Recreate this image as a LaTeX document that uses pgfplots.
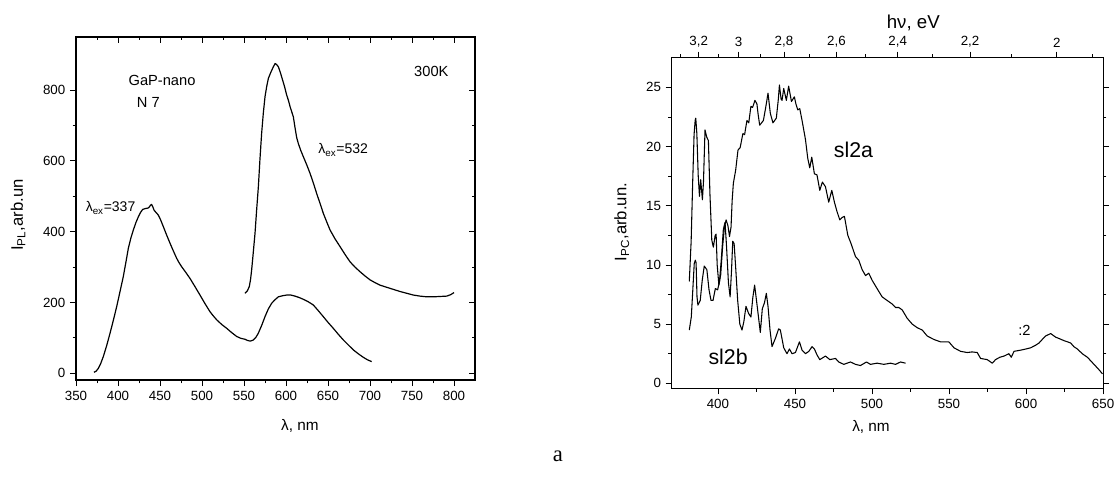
\documentclass[border=0pt]{standalone}
\usepackage{pgfplots}
\pgfplotsset{compat=1.18}
\usepackage{fontspec}
\setmainfont{Liberation Sans}
\newfontfamily\serifa{Liberation Serif}
\begin{document}
\begin{tikzpicture}
\useasboundingbox (0pt,0pt) rectangle (837.75pt,357pt);
\pgfplotsset{
  every axis/.append style={
    /pgf/number format/assume math mode=true,
    tick label style={font=\fontsize{10}{11}\selectfont},
    label style={font=\fontsize{11.5}{13}\selectfont},
    axis line style={line width=0.8pt},
    every tick/.style={black, line width=0.6pt},
    major tick length=4.5pt,
    minor tick length=2.5pt,
    scale only axis,
  },
}
% ---------------- left panel ----------------
\begin{axis}[
  at={(57pt,72pt)}, anchor=south west,
  width=299.25pt, height=257.25pt,
  xmin=350, xmax=825, ymin=-19, ymax=950,
  xtick={350,400,...,800}, ytick={0,200,...,800},
  minor x tick num=1, minor y tick num=1,
  xtick pos=lower, ytick pos=left, tick align=outside,
  xlabel={λ, nm},
  ylabel={I\textsubscript{PL},arb.un},
  xlabel style={at={(axis description cs:0.561,-0.134)}, anchor=center},
  ylabel style={font=\fontsize{12.5}{14}\selectfont, at={(axis description cs:-0.145,0.481)}, anchor=center, rotate=0},
  clip=false,
]
\addplot[black, line width=0.9pt, line join=round] coordinates {
(371.4,3) (374,6) (376.6,14) (379.5,28) (382.5,47) (386.5,78) (390.5,113) (394.5,150) (398.4,188)
(402.5,232) (406.3,273) (409.5,315) (412.3,353) (415.3,382) (418.3,405) (421.2,425) (424.2,442)
(427,455) (429.4,463) (432,465) (434.1,466) (436,467) (437.3,470) (438.8,475) (440,477)
(441.5,470) (442.9,461) (445,455) (448,447) (451,432) (454,414) (458,390) (462,367) (466,345)
(469.8,325) (472.8,312) (475.8,301) (480.7,285) (485.7,268) (491.6,245) (497.6,221) (503.5,197)
(509.5,174) (513.5,162) (517.5,151) (523.4,138) (529.4,127) (535.3,115) (541.3,104) (546,99)
(551.2,96) (554,93) (557.1,91) (559,92) (561,94) (564,101) (567,113) (571,135) (575,160) (579,182)
(583,198) (587,208) (590.9,216) (595.8,219) (600.8,221) (605.7,221) (610.7,218) (615.7,214)
(620.6,209) (626.5,202) (632.5,193) (638.4,177) (644.4,160) (650.3,143) (656.3,127) (662.3,110)
(668.3,94) (674.2,80) (680.2,66) (686.1,55) (692.1,45) (697,38) (702,33)
};
\addplot[black, line width=0.9pt, line join=round] coordinates {
(551.2,226) (554,233) (556.3,245) (557.8,265) (559.1,292) (561,340) (563.1,395) (565,460)
(567.1,527) (569,605) (571,678) (573,735) (575,781) (577,810) (579,833) (581,845) (583,856)
(585,866) (587,875) (588.5,873) (590.9,866) (593.5,848) (596,828) (598.5,808) (600.8,786)
(603,770) (605,752) (608.7,725) (611,690) (612.8,665) (614.7,649) (617.5,630) (620.6,612)
(624.5,590) (628.6,565) (632.5,538) (636.5,508) (640.5,480) (644.4,452) (648.4,428) (652.4,405)
(658.3,380) (664.3,358) (670.2,336) (676.2,315) (682.1,300) (688.1,287) (694,275) (700,264)
(706,256) (711.9,249) (719.8,243) (727.8,237) (735.8,231) (743.7,226) (751.6,221) (759.5,218)
(767.5,216) (775.4,216) (783.4,217) (791.3,218) (796,222) (800,228)
};
\node[anchor=west, font=\fontsize{11}{13}\selectfont] at (axis cs:407,828) {GaP-nano};
\node[anchor=west, font=\fontsize{11}{13}\selectfont] at (axis cs:417,766) {N 7};
\node[anchor=west, font=\fontsize{11}{13}\selectfont] at (axis cs:747,854) {300K};
\node[anchor=west, font=\fontsize{10.5}{12}\selectfont] at (axis cs:633,631) {λ\textsubscript{ex}=532};
\node[anchor=west, font=\fontsize{10.5}{12}\selectfont] at (axis cs:356,467) {λ\textsubscript{ex}=337};
\end{axis}
\begin{axis}[
  at={(57pt,72pt)}, anchor=south west,
  width=299.25pt, height=257.25pt,
  xmin=350, xmax=825, ymin=-19, ymax=950,
  xtick={350,400,...,800}, ytick={0,200,...,800},
  minor x tick num=1, minor y tick num=1,
  xtick pos=upper, ytick pos=right, tick align=inside,
  xticklabels={}, yticklabels={},
]
\end{axis}
% ---------------- right panel ----------------
\begin{axis}[
  at={(503.8pt,65.8pt)}, anchor=south west,
  width=323.5pt, height=247.9pt,
  xmin=370, xmax=650, ymin=-0.42, ymax=27.5,
  xtick={400,450,...,650}, ytick={0,5,...,25},
  minor x tick num=1, minor y tick num=1,
  xtick pos=lower, ytick pos=both, yticklabel pos=left, tick align=outside,
  xlabel={λ, nm},
  ylabel={I\textsubscript{PC},arb.un.},
  xlabel style={at={(axis description cs:0.462,-0.117)}, anchor=center},
  ylabel style={font=\fontsize{12.5}{14}\selectfont, at={(axis description cs:-0.116,0.503)}, anchor=center, rotate=0},
  clip=false,
]
% sl2a
\addplot[black, line width=0.8pt, line join=round] coordinates {
(381.4,8.6) (382.6,12) (383.6,17) (384.5,21) (385.2,22.2) (385.6,22.4) (386.3,21.1) (387.2,17.5)
(388,15.8) (388.8,17.2) (389.9,15.5) (390.6,17) (391.6,21.4) (392.7,20.8) (393.8,20.5) (394.8,16)
(396,12.1) (397,11.5) (398.2,12.5) (398.8,12.6) (399.5,10) (400.6,8.3) (401.8,9.2) (403,11.5)
(404.2,13.2) (405.3,13.8) (406.5,13.3) (407.5,12.4) (408.5,13.2) (409.2,15.4) (410,16.9) (411.5,18)
(413,19.7) (414.4,19.9) (416.2,21.1) (417.3,21.0) (418.8,22.2) (420,22.0) (421.4,23.4) (422.5,23.3)
(424,23.9) (425.3,23.6) (426,22.8) (427.1,21.8) (428.3,22.0) (429.5,22.2) (431,23.3) (432.5,24.5)
(434,22.8) (435.7,22.0) (437.9,22.4) (439.2,24) (439.9,25.2) (441.0,24.0) (441.6,23.9) (442.7,24.9)
(444.4,23.9) (445.9,25.1) (447.7,23.8) (449.6,24.2) (450.6,23.6) (451.8,23.1) (453.1,23.2)
(454.6,22.2) (456.8,20.6) (458.3,19.0) (459.6,18.2) (460.9,19.1) (462.6,17.7) (464.3,17.6)
(466.1,16.3) (467.8,17.0) (469.8,16.6) (471.9,15.3) (473.9,16.3) (475.6,15.3) (477.3,14.5)
(479.1,13.8) (480.5,14.0) (482.1,14.1) (484.3,12.5) (486.4,11.8) (489.3,10.7) (491.4,10.4)
(493.6,9.6) (495.8,9.1) (497.9,9.3) (500.1,8.7) (503.3,8.0) (506.6,7.3) (509.8,7.0) (513.1,6.7)
(515.3,6.4) (517.4,6.4) (519.6,6.2) (522.8,5.5) (526.1,5.0) (529.3,4.7) (532.6,4.5) (535.8,4.0)
(540.2,3.7) (544.5,3.5) (549.9,3.5) (553.2,3.0) (557.5,2.7) (561.8,2.6) (565,2.65) (568.3,2.6)
(570.5,2.1) (574.8,2.0) (578.1,1.7) (580.2,2.0) (583,2.2) (585.7,2.3) (588.9,2.5) (590.4,2.2)
(592.2,2.7) (596.5,2.8) (600,2.9) (603,3.0) (606,3.2) (608.4,3.4) (610.5,3.7) (612.7,4.0)
(616,4.2) (619.2,3.9) (622,3.75) (624.7,3.6) (627,3.5) (629,3.4) (631,3.1) (633.3,2.9)
(636.5,2.5) (639.8,2.2) (642,1.9) (644.1,1.6) (647,1.2) (649.6,0.8)
};
% sl2b
\addplot[black, line width=0.8pt, line join=round] coordinates {
(381.4,4.5) (382.7,5.6) (383.3,7.0) (384.6,10.1) (385.3,10.4) (385.8,10.2) (386.4,7.3) (387,6.6)
(388.5,7.0) (389.8,8.7) (391.1,9.9) (392.8,9.6) (394.2,7.9) (395.5,7.0) (396.8,7.0) (398.3,8.0)
(399.8,7.9) (401,8.6) (402.2,10.5) (403.5,13.0) (404.6,13.6) (405.6,11.5) (406.8,8.5) (407.9,7.3)
(408.8,9.5) (409.6,12.0) (410.5,11.8) (411.5,9.8) (412.8,7.0) (414.2,5.0) (415.6,4.5) (416.8,5.2)
(418.2,6.5) (419.9,5.9) (421.4,5.6) (422.6,7.2) (423.8,8.3) (425.3,6.7) (427.5,4.3) (428.8,6.3)
(430.2,6.8) (431.4,7.6) (432.5,6.5) (433.8,4.5) (435.1,3.1) (437.3,3.8) (439.4,4.6) (440.5,4.5)
(442.7,3.0) (444.8,2.5) (446.4,2.9) (448.1,2.5) (450.3,2.6) (452.9,3.5) (454.6,2.8) (456.8,2.5)
(459,2.7) (461.1,3.1) (462.6,2.9) (464.3,2.4) (466.1,2.0) (469.8,2.3) (472.6,2.0) (476.3,2.1)
(478.4,1.8) (481.7,1.6) (486,1.8) (489.3,1.6) (492.5,1.5) (496.4,1.8) (499,1.6) (503.3,1.7)
(507.7,1.6) (512,1.7) (515.3,1.6) (518.5,1.8) (521.8,1.7)
};
\node[font=\fontsize{16}{19}\selectfont] at (axis cs:488,19.7) {sl2a};
\node[font=\fontsize{16}{19}\selectfont] at (axis cs:406.6,2.2) {sl2b};
\node[font=\fontsize{11}{13}\selectfont] at (axis cs:599,4.5) {:2};
\end{axis}
\begin{axis}[
  at={(503.8pt,65.8pt)}, anchor=south west,
  width=323.5pt, height=247.9pt,
  xmin=370, xmax=650, ymin=-0.42, ymax=27.5,
  axis x line*=top, axis y line=none,
  tick align=outside,
  xtick={387.5,413.33,442.86,476.92,516.67,563.64,620},
  xticklabels={{3,2},3,{2,8},{2,6},{2,4},{2,2},2},
  minor xtick={375.76,400,427.59,459.26,496,539.13,590.48,643.1},
  xlabel={hν, eV},
  xlabel style={font=\fontsize{14}{16}\selectfont, at={(axis description cs:0.560,1.106)}, anchor=center},
]
\end{axis}
\node[font=\serifa\fontsize{17}{19}\selectfont] at (418.5pt,15pt) {a};
\end{tikzpicture}
\end{document}
